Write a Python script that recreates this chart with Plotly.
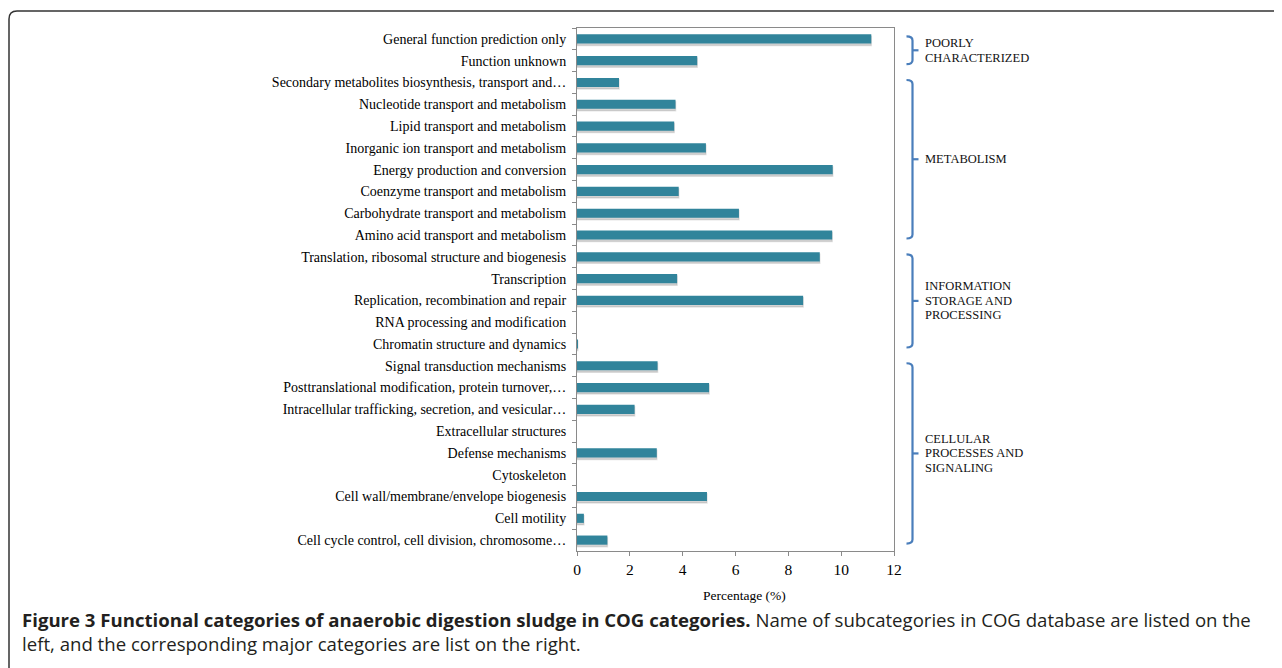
import plotly.graph_objects as go

categories = [
    "General function prediction only",
    "Function unknown",
    "Secondary metabolites biosynthesis, transport and…",
    "Nucleotide transport and metabolism",
    "Lipid transport and metabolism",
    "Inorganic ion transport and metabolism",
    "Energy production and conversion",
    "Coenzyme transport and metabolism",
    "Carbohydrate transport and metabolism",
    "Amino acid transport and metabolism",
    "Translation, ribosomal structure and biogenesis",
    "Transcription",
    "Replication, recombination and repair",
    "RNA processing and modification",
    "Chromatin structure and dynamics",
    "Signal transduction mechanisms",
    "Posttranslational modification, protein turnover,…",
    "Intracellular trafficking, secretion, and vesicular…",
    "Extracellular structures",
    "Defense mechanisms",
    "Cytoskeleton",
    "Cell wall/membrane/envelope biogenesis",
    "Cell motility",
    "Cell cycle control, cell division, chromosome…",
]
percentages = [11.14, 4.55, 1.59, 3.73, 3.68, 4.88, 9.68, 3.85, 6.13, 9.66,
               9.19, 3.79, 8.56, 0.0, 0.03, 3.05, 5.0, 2.18, 0.0, 3.02,
               0.0, 4.92, 0.26, 1.15]
x_ticks = [0, 2, 4, 6, 8, 10, 12]
group_lines = [["POORLY", "CHARACTERIZED"],
               ["METABOLISM"],
               ["INFORMATION", "STORAGE AND", "PROCESSING"],
               ["CELLULAR", "PROCESSES AND", "SIGNALING"]]
group_first = [0, 2, 10, 15]
group_last = [1, 9, 14, 23]

# page body has an 8px margin: work in page pixels, convert to figure pixels
OFF = 8
W_FIG, H_FIG = 1282 - OFF, 668 - OFF
L, R, T, B = 577 - OFF, 894 - OFF, 28 - OFF, 551 - OFF
PW, PH = R - L, B - T


def px(p):
    return (p - OFF - L) / PW


def py(p):
    return (B - (p - OFF)) / PH


N = len(categories)


def idx_to_py(i):
    # category index (0 at top) to page pixel y
    return T + OFF + (i + 0.5) * PH / N


shadow_x = [v if v > 0 else None for v in percentages]

fig = go.Figure()
fig.add_trace(go.Bar(
    x=shadow_x, y=categories, orientation="h",
    marker=dict(color="rgba(90,90,90,0.26)", line=dict(width=1.5, color="rgba(90,90,90,0.16)")),
    width=0.42, offset=-0.21 + 0.09, hoverinfo="skip",
))
fig.add_trace(go.Bar(
    x=percentages, y=categories, orientation="h",
    marker=dict(color="#31849B", line=dict(width=0)),
    width=0.42, offset=-0.21, hoverinfo="x+y",
))

serif = "Liberation Serif, Times New Roman, serif"
fig.update_layout(
    width=W_FIG, height=H_FIG,
    margin=dict(l=L, r=W_FIG - R, t=T, b=H_FIG - B, pad=0),
    paper_bgcolor="white", plot_bgcolor="white",
    showlegend=False, barmode="overlay",
    font=dict(family=serif, color="black", size=13),
    xaxis=dict(range=[0, 12], tickvals=x_ticks, showgrid=False, zeroline=False,
               showline=True, linecolor="#8a8a8a", linewidth=1, mirror=True,
               ticks="outside", ticklen=4, tickcolor="#8a8a8a",
               tickfont=dict(family=serif, size=15.5)),
    yaxis=dict(autorange="reversed", showgrid=False, zeroline=False,
               showline=True, linecolor="#8a8a8a", linewidth=1, mirror=True,
               ticks="outside", ticklen=4, tickcolor="#8a8a8a",
               tickson="boundaries",
               tickfont=dict(family=serif, size=14), ticksuffix="  "),
)

shapes = []
annotations = []
# x axis title
annotations.append(dict(xref="paper", yref="paper", x=px(744), y=py(595),
                        xanchor="center", yanchor="middle", text="Percentage (%)",
                        showarrow=False, font=dict(family=serif, size=13.5, color="black")))

blue = "#4A7EBB"
x0, x1, x2 = px(906.5), px(912.5), px(918.5)
for lines, a, b in zip(group_lines, group_first, group_last):
    ytop = idx_to_py(a) - 2.5
    ybot = idx_to_py(b) + 3.5
    ymid = (ytop + ybot) / 2
    r = 4
    path = (f"M {x0},{py(ytop)} Q {x1},{py(ytop)} {x1},{py(ytop + r)} "
            f"L {x1},{py(ybot - r)} Q {x1},{py(ybot)} {x0},{py(ybot)}")
    shapes.append(dict(type="path", xref="paper", yref="paper", path=path,
                       line=dict(color=blue, width=2.2)))
    shapes.append(dict(type="line", xref="paper", yref="paper",
                       x0=x1, x1=x2, y0=py(ymid), y1=py(ymid),
                       line=dict(color=blue, width=2.2)))
    lh = 14.5
    start = ymid - lh * (len(lines) - 1) / 2
    for k, txt in enumerate(lines):
        annotations.append(dict(xref="paper", yref="paper", x=px(923), y=py(start + k * lh),
                                xanchor="left", yanchor="middle", align="left",
                                text=txt, showarrow=False,
                                font=dict(family=serif, size=12.5, color="#111")))

# outer frame with rounded corner
fx, fy, rad = 9, 11, 8
frame = (f"M {px(fx)},{py(700)} L {px(fx)},{py(fy + rad)} "
         f"Q {px(fx)},{py(fy)} {px(fx + rad)},{py(fy)} L {px(1300)},{py(fy)}")
shapes.append(dict(type="path", xref="paper", yref="paper", path=frame,
                   line=dict(color="#333333", width=1.5)))

caption = ("<b>Figure 3 Functional categories of anaerobic digestion sludge in COG categories.</b>"
           " Name of subcategories in COG database are listed on the<br>"
           "left, and the corresponding major categories are list on the right.")
annotations.append(dict(xref="paper", yref="paper", x=px(20), y=py(631),
                        xanchor="left", yanchor="middle", align="left",
                        text=caption, showarrow=False,
                        font=dict(family="Open Sans, sans-serif", size=18.6, color="#231F20")))

fig.update_layout(shapes=shapes, annotations=annotations)
fig.write_html("out.html")
